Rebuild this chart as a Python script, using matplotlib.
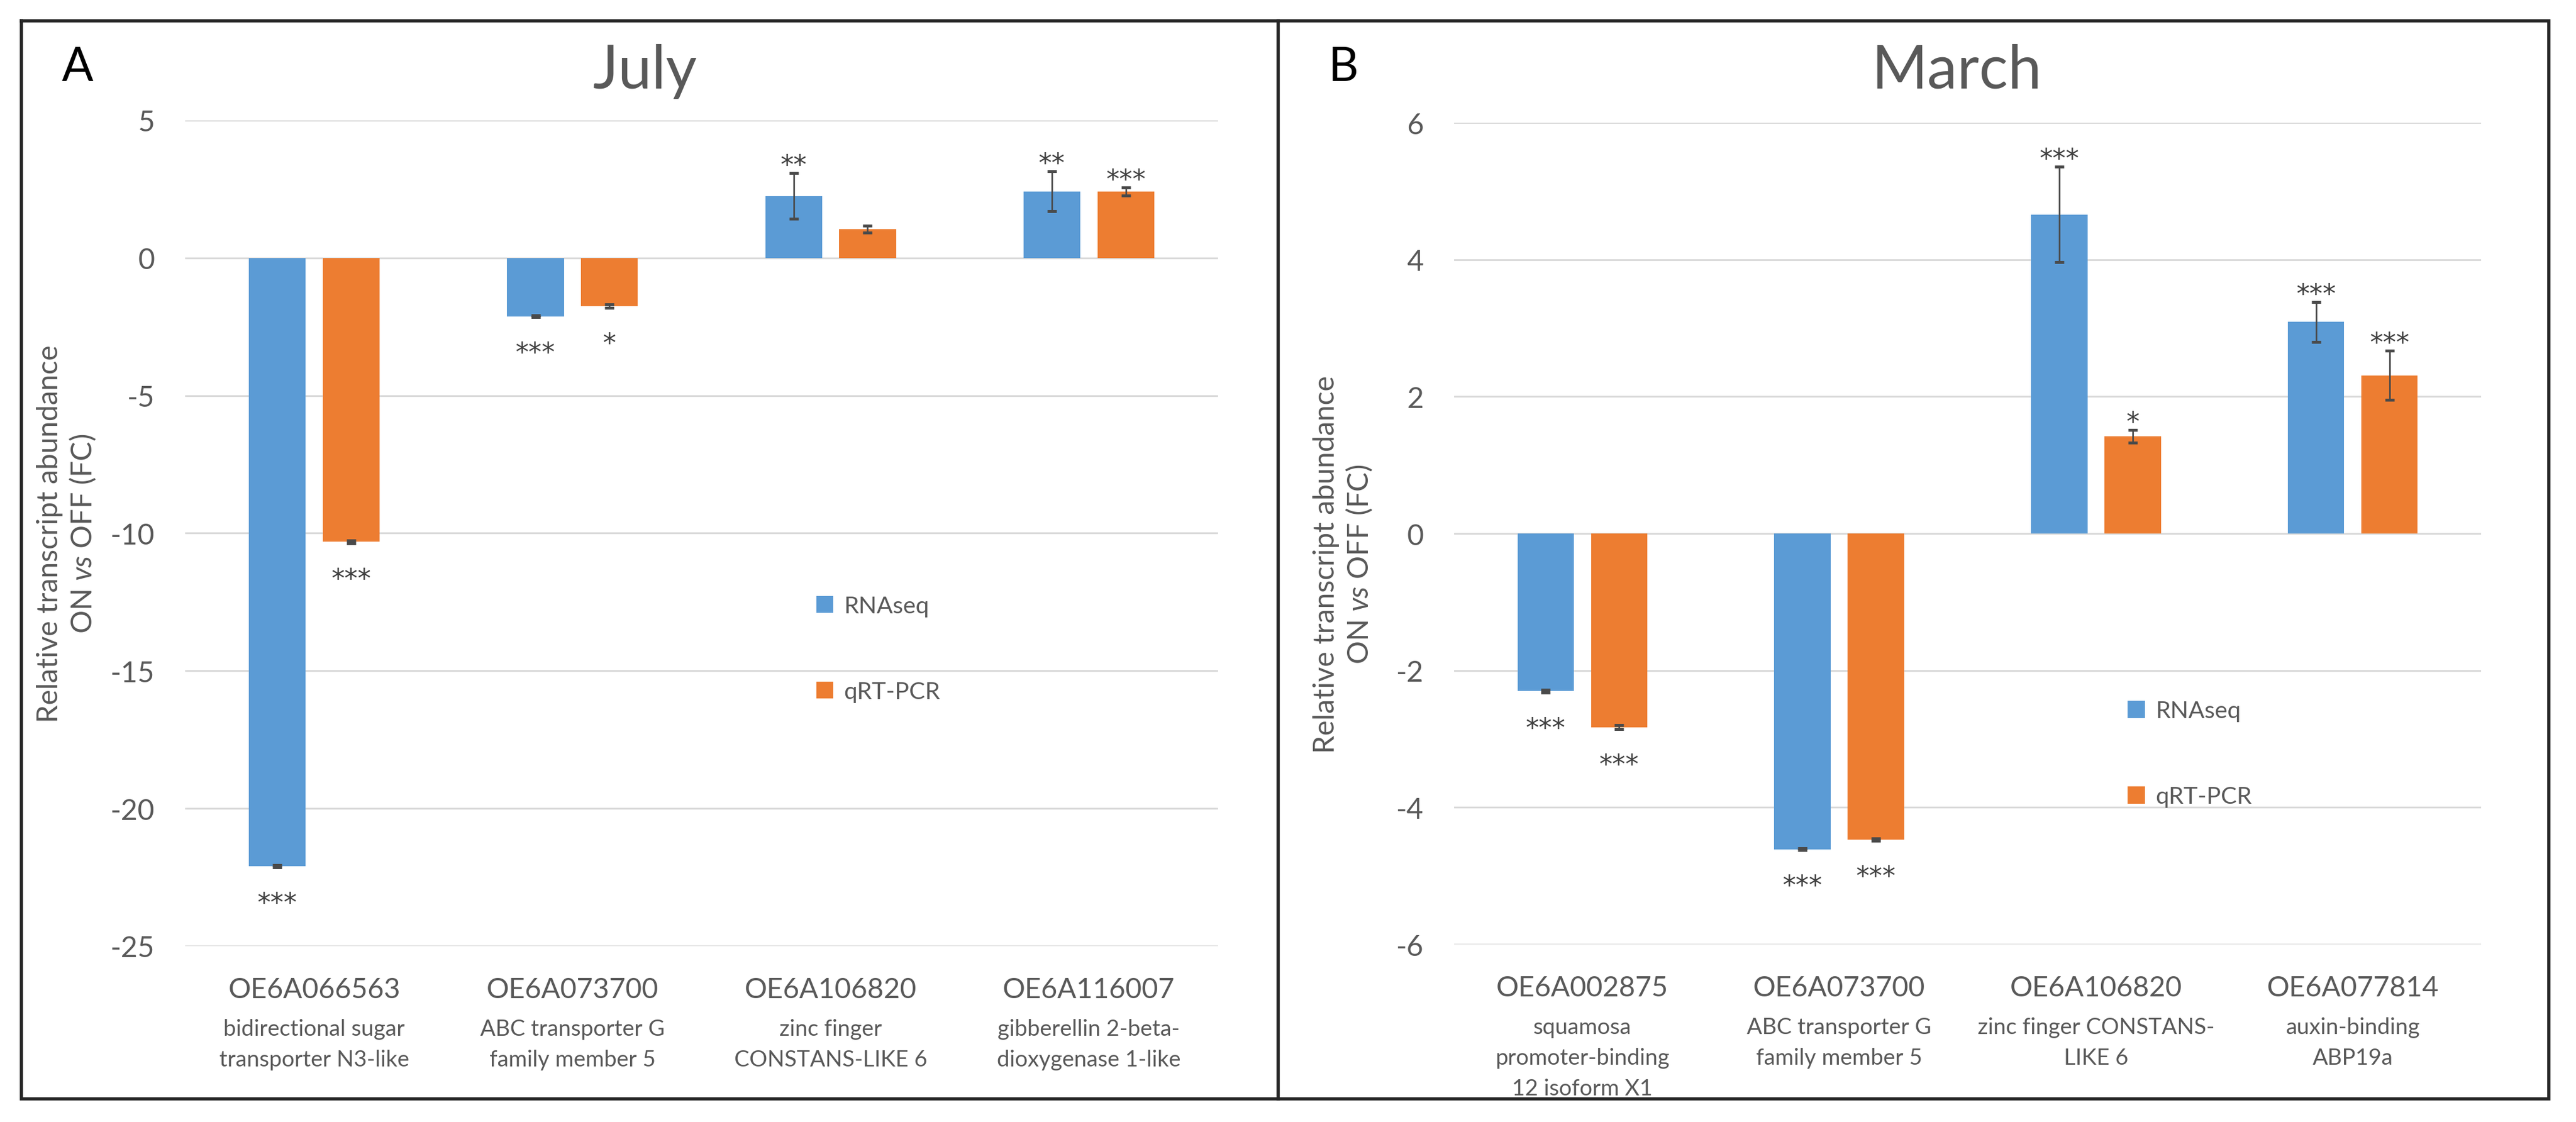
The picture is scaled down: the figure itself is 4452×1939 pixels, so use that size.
import matplotlib
matplotlib.use('Agg')
import matplotlib.pyplot as plt
import matplotlib.transforms as mtransforms
from matplotlib.lines import Line2D
import numpy as np

plt.rcParams['font.family'] = ['Lato', 'DejaVu Sans']
plt.rcParams['axes.unicode_minus'] = False
plt.rcParams['mathtext.fontset'] = 'custom'
plt.rcParams['mathtext.rm'] = 'Lato'
plt.rcParams['mathtext.it'] = 'Lato:italic'

# ---------------- data ----------------
series_names = ['RNAseq', 'qRT-PCR']

july_ids = ['OE6A066563', 'OE6A073700', 'OE6A106820', 'OE6A116007']
july_desc = ['bidirectional sugar\ntransporter N3-like',
             'ABC transporter G\nfamily member 5',
             'zinc finger\nCONSTANS-LIKE 6',
             'gibberellin 2-beta-\ndioxygenase 1-like']
july_rnaseq = [-22.1, -2.12, 2.25, 2.42]
july_rnaseq_err = [0.05, 0.03, 0.83, 0.73]
july_qpcr = [-10.31, -1.75, 1.05, 2.42]
july_qpcr_err = [0.05, 0.06, 0.13, 0.15]
july_rnaseq_sig = ['***', '***', '**', '**']
july_qpcr_sig = ['***', '*', '', '***']
july_yticks = [5, 0, -5, -10, -15, -20, -25]

march_ids = ['OE6A002875', 'OE6A073700', 'OE6A106820', 'OE6A077814']
march_desc = ['squamosa\npromoter-binding\n12 isoform X1',
              'ABC transporter G\nfamily member 5',
              'zinc finger CONSTANS-\nLIKE 6',
              'auxin-binding\nABP19a']
march_rnaseq = [-2.30, -4.61, 4.66, 3.09]
march_rnaseq_err = [0.02, 0.01, 0.70, 0.29]
march_qpcr = [-2.83, -4.47, 1.42, 2.31]
march_qpcr_err = [0.03, 0.02, 0.09, 0.36]
march_rnaseq_sig = ['***', '***', '***', '***']
march_qpcr_sig = ['***', '***', '*', '***']
march_yticks = [6, 4, 2, 0, -2, -4, -6]

# ---------------- style ----------------
BLUE = '#5B9BD5'
ORANGE = '#ED7D31'
GREY = '#595959'
GRID = '#D9D9D9'
DPI = 200
W, H = 4452, 1940

fig = plt.figure(figsize=(W / DPI, H / DPI), dpi=DPI)
fig.patch.set_facecolor('white')


def px_box(x0, x1, y0, y1):
    return [x0 / W, 1 - y1 / H, (x1 - x0) / W, (y1 - y0) / H]


axA = fig.add_axes(px_box(320, 2105, 209, 1636))
axB = fig.add_axes(px_box(2513, 4288, 213, 1633))


def draw_panel(ax, ids, descs, s1, e1, s2, e2, sig1, sig2, yticks,
               legend_anchor, ylab_pos):
    x = np.arange(len(ids))
    off, w = 0.143, 0.22
    ekw = dict(ecolor='#4a4a4a', elinewidth=1.0, capsize=3, capthick=1.8)
    ax.bar(x - off, s1, w, yerr=e1, color=BLUE, label=series_names[0],
           error_kw=ekw, zorder=2)
    ax.bar(x + off, s2, w, yerr=e2, color=ORANGE, label=series_names[1],
           error_kw=ekw, zorder=2)
    ax.set_xlim(-0.5, len(ids) - 0.5)
    ax.set_ylim(min(yticks), max(yticks))
    ax.set_yticks(yticks)
    ax.yaxis.grid(True, color=GRID, lw=1.1)
    ax.set_axisbelow(True)
    for s in ax.spines.values():
        s.set_visible(False)
    ax.tick_params(axis='y', length=0, pad=19, labelsize=18, labelcolor=GREY)
    ax.set_xticks([])

    # significance stars
    star_kw = dict(ha='center', va='baseline', fontsize=16.5, color='#404040',
                   family='DejaVu Sans', textcoords='offset points')
    for xs, vals, errs, sigs in ((x - off, s1, e1, sig1), (x + off, s2, e2, sig2)):
        for xi, v, e, s in zip(xs, vals, errs, sigs):
            if not s:
                continue
            if v >= 0:
                ax.annotate(s, xy=(xi, v + e), xytext=(0, 0), **star_kw)
            else:
                ax.annotate(s, xy=(xi, v - e), xytext=(0, -27), **star_kw)

    # category labels
    trans = mtransforms.blended_transform_factory(ax.transData, ax.transAxes)
    for xi, cid, d in zip(x, ids, descs):
        ax.annotate(cid, xy=(xi, 0), xycoords=trans, xytext=(0, -32),
                    textcoords='offset points', ha='center', va='baseline',
                    fontsize=17.5, color=GREY, annotation_clip=False)
        for j, line in enumerate(d.split('\n')):
            ax.annotate(line, xy=(xi, 0), xycoords=trans,
                        xytext=(0, -55.5 - 19.1 * j), textcoords='offset points',
                        ha='center', va='baseline', fontsize=14, color=GREY,
                        annotation_clip=False)

    ax.legend(loc='upper left', bbox_to_anchor=legend_anchor, frameon=False,
              fontsize=14.8, labelcolor=GREY, handlelength=0.72,
              handleheight=0.72, handletextpad=0.45, labelspacing=2.7,
              borderpad=0, borderaxespad=0)

    ax.text(ylab_pos[0], ylab_pos[1],
            'Relative transcript abundance\nON $\\mathit{vs}$ OFF (FC)',
            transform=ax.transAxes, rotation=90, ha='center', va='center',
            multialignment='center', fontsize=18, color=GREY, linespacing=1.2)


draw_panel(axA, july_ids, july_desc, july_rnaseq, july_rnaseq_err,
           july_qpcr, july_qpcr_err, july_rnaseq_sig, july_qpcr_sig,
           july_yticks, (0.611, 0.425), (-0.1148, 0.5))
draw_panel(axB, march_ids, march_desc, march_rnaseq, march_rnaseq_err,
           march_qpcr, march_qpcr_err, march_rnaseq_sig, march_qpcr_sig,
           march_yticks, (0.656, 0.297), (-0.108, 0.463))

# titles and panel letters
fig.text(1115 / W, 1 - 153 / H, 'July', ha='center', va='baseline',
         fontsize=37.5, color=GREY)
fig.text(3382 / W, 1 - 153 / H, 'March', ha='center', va='baseline',
         fontsize=37.5, color=GREY)
fig.text(107 / W, 1 - 140 / H, 'A', ha='left', va='baseline', fontsize=29, color='black')
fig.text(2296 / W, 1 - 140 / H, 'B', ha='left', va='baseline', fontsize=29, color='black')

# outer frame and divider
L, R, T, Bm, D = 37 / W, 4405 / W, 1 - 37 / H, 1 - 1900 / H, 2209 / W
frame_kw = dict(color='#262626', lw=2.0, transform=fig.transFigure, zorder=10)
fig.add_artist(Line2D([L, R, R, L, L], [T, T, Bm, Bm, T], solid_joinstyle='miter', **frame_kw))
fig.add_artist(Line2D([D, D], [T, Bm], **frame_kw))

fig.savefig('out.png', dpi=DPI, facecolor='white')
